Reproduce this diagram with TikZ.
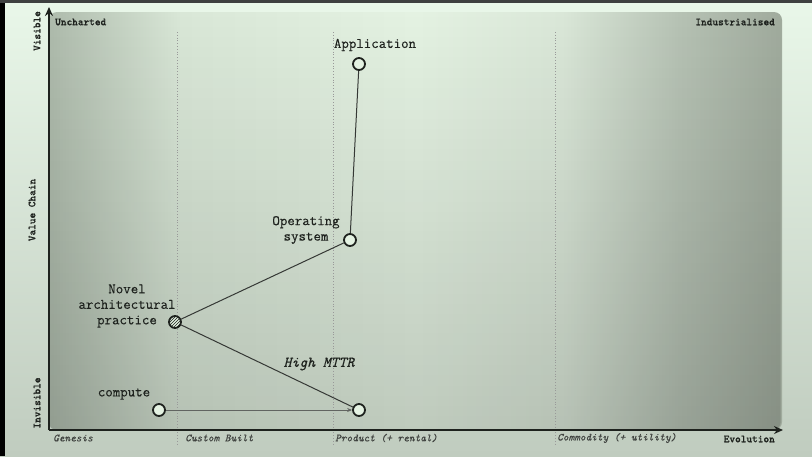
\documentclass[tikz,border=0pt]{standalone}
\usepackage{fontspec}
\setmainfont{Latin Modern Mono}
\newfontfamily\axbold{lmmonolt10-bold.otf}[FakeBold=0.7]
\newfontfamily\lblfont{Latin Modern Mono}[FakeBold=0.35]
\usetikzlibrary{arrows.meta,patterns,fadings}
\definecolor{bgtop}{HTML}{E9F7E9}
\definecolor{bgbot}{HTML}{C0CCBF}
\definecolor{pA}{HTML}{AEBBAC}
\definecolor{pB}{HTML}{D9E7D7}
\definecolor{pC}{HTML}{E4F2E2}
\definecolor{pD}{HTML}{DAE7D8}
\definecolor{pE}{HTML}{B6C2B4}
\definecolor{pF}{HTML}{A0AB9D}
\definecolor{ink}{HTML}{1E221E}
\definecolor{strip}{HTML}{3E4040}
\pgfdeclarehorizontalshading{plotsh}{100bp}{color(0bp)=(pA); color(25bp)=(pA); color(34bp)=(pB); color(50bp)=(pC); color(60bp)=(pD); color(68bp)=(pE); color(75bp)=(pF); color(100bp)=(pF)}
\begin{document}
\begin{tikzpicture}[x=1pt,y=-1pt,
  axlab/.style={font=\fontsize{10.8}{12}\selectfont\axbold, text=ink, inner sep=0pt},
  stagelab/.style={font=\fontsize{10.8}{12}\selectfont\lblfont\itshape, text=ink!85, inner sep=0pt, anchor=west},
  complab/.style={font=\fontsize{14.5}{15.5}\selectfont\lblfont, text=ink, inner sep=0pt, align=center},
  comp/.style={circle, draw=ink, line width=1.8pt, fill=pC, minimum size=12pt, inner sep=0pt},
  link/.style={draw=ink!90, line width=1pt},
  stageline/.style={draw=gray!80, dotted, line width=0.8pt}]
\useasboundingbox (0,0) rectangle (812,456);
% background
\fill[top color=bgtop, bottom color=bgbot] (0,0) rectangle (812,456);
\fill[black] (0,0) rectangle (5,456);
\fill[strip] (0,0) rectangle (812,3);
% plot area
\path[shading=plotsh, rounded corners=8pt] (49,430) -- (49,12) -- (782,12) -- (782,430) -- cycle;
\fill[black, fill opacity=0.16, path fading=north, rounded corners=8pt] (49,430) -- (49,12) -- (782,12) -- (782,430) -- cycle;
% stage lines
\draw[stageline] (177,32) -- (177,446);
\draw[stageline] (333,32) -- (333,446);
\draw[stageline] (555,32) -- (555,446);
% axes
\coordinate (origin) at (49,430);
\coordinate (ytop) at (49,7);
\coordinate (xend) at (783,430);
\draw[ink, line width=2.4pt, -{Stealth[length=9pt,width=8pt]}] (origin) -- (ytop);
\draw[ink, line width=2.4pt, -{Stealth[length=9pt,width=8pt]}] (origin) -- (xend);
% axis labels
\node[axlab, anchor=west] (unch) at (55,22) {Uncharted};
\node[axlab, anchor=east] (ind) at (775,22) {Industrialised};
\node[axlab, rotate=90] (vis) at (37,31) {Visible};
\node[axlab, rotate=90] (invis) at (37,403) {Invisible};
\node[axlab, rotate=90] (vc) at (32,210) {Value Chain};
\node[stagelab] (gen) at (53,438) {Genesis};
\node[stagelab] (cb) at (185,438) {Custom Built};
\node[stagelab] (prod) at (335,438) {Product (+ rental)};
\node[stagelab] (comm) at (557,438) {Commodity (+ utility)};
\node[axlab, anchor=east] (evo) at (775,439) {Evolution};
% components
\node[comp] (app) at (359,64) {};
\node[comp] (os) at (350,240) {};
\node[comp, fill=pC, postaction={pattern=north east lines, pattern color=ink}] (novel) at (175,322) {};
\node[comp] (compute) at (159,410) {};
\node[comp] (mttr) at (359,410) {};
% links
\draw[link] (app) -- (os);
\draw[link] (os) -- (novel);
\draw[link] (novel) -- (mttr);
\draw[draw=ink!70, line width=0.7pt, -{Stealth[length=5pt,width=4pt]}] (compute) -- (mttr);
% labels
\node[complab] (applab) at (375,45) {Application};
\node[complab] (oslab) at (306,230) {Operating\\system};
\node[complab] (novellab) at (127,306) {Novel\\architectural\\practice};
\node[complab] (complab) at (124,394) {compute};
\node[complab, font=\fontsize{15}{15.5}\selectfont\lblfont\itshape] (mttrlab) at (319,364) {High MTTR};
\end{tikzpicture}
\end{document}
